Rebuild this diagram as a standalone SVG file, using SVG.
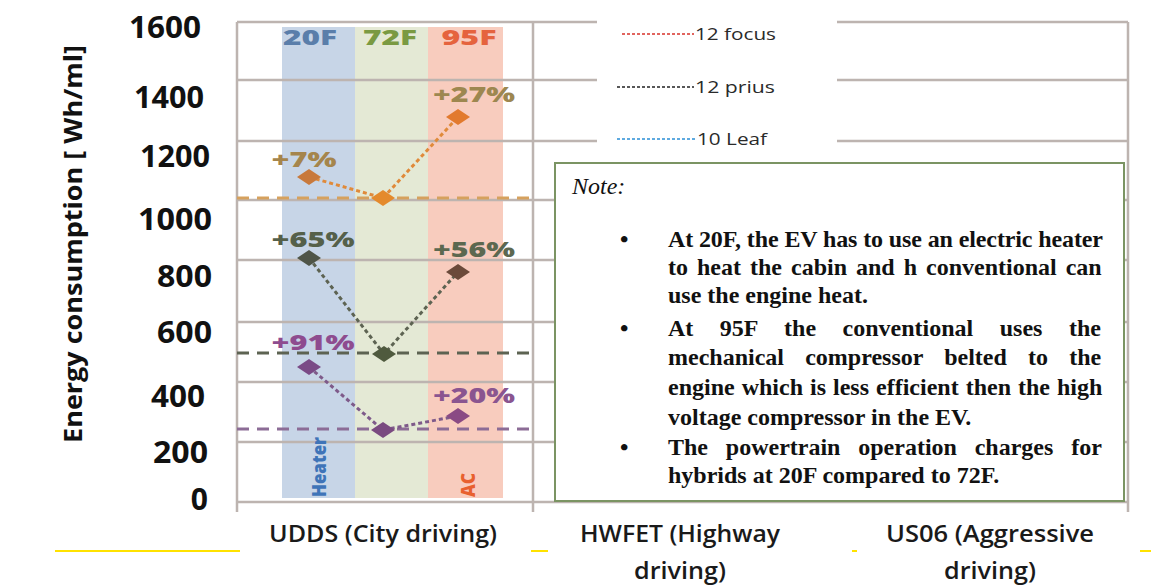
<svg xmlns="http://www.w3.org/2000/svg" width="1151" height="587" viewBox="0 0 1151 587">
<style>
.grid{stroke:#bdb4b0;stroke-width:2.5;fill:none}
.tick{font-family:"Open Sans",sans-serif;font-weight:700;font-size:30px;fill:#111;text-anchor:end}
.pct{font-family:"Open Sans",sans-serif;font-weight:800;font-size:21px;text-anchor:middle}
.ser{fill:none;stroke-width:3;stroke-dasharray:4 3}
.ref{fill:none;stroke-width:3;stroke-dasharray:12 8}
.leg{font-family:"Open Sans",sans-serif;font-size:17px;fill:#2a2a2a}
.legl{stroke-width:1.5;stroke-dasharray:3 2}
.note{font-family:"Liberation Serif","Times New Roman",serif;font-weight:700;font-size:24px;fill:#111}
.cat{font-family:"Open Sans",sans-serif;font-weight:600;font-size:24px;fill:#1a1a1a;text-anchor:middle}
</style>
<rect width="1151" height="587" fill="#ffffff"/>

<g id="bands">
  <rect x="282" y="27" width="73" height="471" fill="#c7d5e7"/>
  <rect x="355" y="27" width="73" height="471" fill="#e4e9d5"/>
  <rect x="428" y="27" width="75" height="471" fill="#f8ccbe"/>
</g>

<g id="grid">
  <line class="grid" x1="237" y1="22" x2="1128" y2="22"/>
  <line class="grid" x1="237" y1="80" x2="1128" y2="80"/>
  <line class="grid" x1="237" y1="141" x2="1128" y2="141"/>
  <line class="grid" x1="237" y1="200" x2="1128" y2="200"/>
  <line class="grid" x1="237" y1="260" x2="1128" y2="260"/>
  <line class="grid" x1="237" y1="322" x2="1128" y2="322"/>
  <line class="grid" x1="237" y1="382" x2="1128" y2="382"/>
  <line class="grid" x1="237" y1="442" x2="1128" y2="442"/>
  <line class="grid" x1="237" y1="502" x2="1128" y2="502"/>
  <line class="grid" x1="237" y1="22" x2="237" y2="512"/>
  <line class="grid" x1="533" y1="22" x2="533" y2="512"/>
  <line class="grid" x1="1128" y1="22" x2="1128" y2="512"/>
</g>

<g id="band-labels" font-family="Open Sans, sans-serif" font-weight="800" font-size="21" text-anchor="middle">
  <text x="310" y="45" fill="#5a7eaa" textLength="54" lengthAdjust="spacingAndGlyphs">20F</text>
  <text x="390" y="45" fill="#7a9a42" textLength="54" lengthAdjust="spacingAndGlyphs">72F</text>
  <text x="469" y="45" fill="#e5633e" textLength="55" lengthAdjust="spacingAndGlyphs">95F</text>
  <text transform="translate(326,497) rotate(-90)" text-anchor="start" font-size="20" textLength="60" lengthAdjust="spacingAndGlyphs" fill="#3f74b8">Heater</text>
  <text transform="translate(475,497) rotate(-90)" text-anchor="start" font-size="20" textLength="24" lengthAdjust="spacingAndGlyphs" fill="#e8602e">AC</text>
</g>

<g id="axis-labels">
  <text class="tick" x="201" y="38" textLength="72" lengthAdjust="spacingAndGlyphs">1600</text>
  <text class="tick" x="204" y="108" textLength="70" lengthAdjust="spacingAndGlyphs">1400</text>
  <text class="tick" x="210" y="167" textLength="70" lengthAdjust="spacingAndGlyphs">1200</text>
  <text class="tick" x="212" y="230" textLength="74" lengthAdjust="spacingAndGlyphs">1000</text>
  <text class="tick" x="212" y="287" textLength="55" lengthAdjust="spacingAndGlyphs">800</text>
  <text class="tick" x="212" y="343" textLength="55" lengthAdjust="spacingAndGlyphs">600</text>
  <text class="tick" x="205" y="407" textLength="54" lengthAdjust="spacingAndGlyphs">400</text>
  <text class="tick" x="208" y="463" textLength="55" lengthAdjust="spacingAndGlyphs">200</text>
  <text class="tick" x="208" y="510">0</text>
  <text transform="translate(82,443) rotate(-90)" font-family="Open Sans, sans-serif" font-weight="700" font-size="25" fill="#111" textLength="398" lengthAdjust="spacingAndGlyphs">Energy consumption [ Wh/ml]</text>
</g>

<g id="connectors">
  <line class="ref" x1="237" y1="198" x2="532" y2="198" stroke="#d6a15e"/>
  <line class="ref" x1="237" y1="353" x2="532" y2="353" stroke="#5d6352"/>
  <line class="ref" x1="237" y1="429" x2="532" y2="429" stroke="#8c6c96"/>
  <polyline class="ser" points="309,177 383,198 458,117" stroke="#e08a3a"/>
  <polyline class="ser" points="309,258 384,354 458,272" stroke="#5d6352"/>
  <polyline class="ser" points="309,367 383,430 458,416" stroke="#7e5a8a"/>
</g>

<g id="series-focus">
  <polygon points="297,177 309,169 321,177 309,185" fill="#c8793c"/>
  <polygon points="371,198 383,190 395,198 383,206" fill="#e48a2c"/>
  <polygon points="446,117 458,109 470,117 458,125" fill="#e27a2e"/>
  <text class="pct" x="304" y="167" fill="#a5854c" textLength="65" lengthAdjust="spacingAndGlyphs">+7%</text>
  <text class="pct" x="474" y="102" fill="#9d8750" textLength="82" lengthAdjust="spacingAndGlyphs">+27%</text>
</g>
<g id="series-prius">
  <polygon points="297,258 309,250 321,258 309,266" fill="#4f5548"/>
  <polygon points="372,354 384,346 396,354 384,362" fill="#4f5a3e"/>
  <polygon points="446,272 458,264 470,272 458,280" fill="#6b4a3a"/>
  <text class="pct" x="313" y="247" fill="#55604a" textLength="83" lengthAdjust="spacingAndGlyphs">+65%</text>
  <text class="pct" x="474" y="257" fill="#5c6850" textLength="82" lengthAdjust="spacingAndGlyphs">+56%</text>
</g>
<g id="series-leaf">
  <polygon points="297,367 309,359 321,367 309,375" fill="#7a4a86"/>
  <polygon points="371,430 383,422 395,430 383,438" fill="#7a4a80"/>
  <polygon points="446,416 458,408 470,416 458,424" fill="#8a4a84"/>
  <text class="pct" x="313" y="350" fill="#8e4c8f" textLength="83" lengthAdjust="spacingAndGlyphs">+91%</text>
  <text class="pct" x="474" y="403" fill="#8a5590" textLength="82" lengthAdjust="spacingAndGlyphs">+20%</text>
</g>

<g id="legend">
  <rect x="597" y="0" width="240" height="160" fill="#ffffff"/>
  <line class="legl" x1="622" y1="34" x2="694" y2="34" stroke="#d8322a"/>
  <text class="leg" x="695" y="40" textLength="81" lengthAdjust="spacingAndGlyphs">12 focus</text>
  <line class="legl" x1="617" y1="87" x2="694" y2="87" stroke="#222"/>
  <text class="leg" x="695" y="93" textLength="80" lengthAdjust="spacingAndGlyphs">12 prius</text>
  <line class="legl" x1="617" y1="139" x2="696" y2="139" stroke="#2a8fd6"/>
  <text class="leg" x="697" y="145" textLength="70" lengthAdjust="spacingAndGlyphs">10 Leaf</text>
</g>

<g id="note">
  <rect x="555" y="163" width="569" height="338" fill="#ffffff" stroke="#7b9463" stroke-width="2"/>
  <text x="572" y="194" font-family="Liberation Serif, serif" font-style="italic" font-size="24" fill="#111">Note:</text>
  <text class="note" x="620" y="247">•</text>
  <text class="note" x="620" y="336">•</text>
  <text class="note" x="620" y="455">•</text>
  <text class="note" x="668" y="247" textLength="435" lengthAdjust="spacing">At 20F, the EV has to use an electric heater</text>
  <text class="note" x="668" y="275" word-spacing="3">to heat the cabin and h conventional can</text>
  <text class="note" x="668" y="303">use the engine heat.</text>
  <text class="note" x="668" y="336" word-spacing="20.5">At 95F the conventional uses the</text>
  <text class="note" x="668" y="365" word-spacing="15.2">mechanical compressor belted to the</text>
  <text class="note" x="668" y="395" word-spacing="1">engine which is less efficient then the high</text>
  <text class="note" x="668" y="425">voltage compressor in the EV.</text>
  <text class="note" x="668" y="455" word-spacing="11.8">The powertrain operation charges for</text>
  <text class="note" x="668" y="483">hybrids at 20F compared to 72F.</text>
</g>

<g id="categories">
  <text class="cat" x="383" y="542" textLength="228" lengthAdjust="spacingAndGlyphs">UDDS (City driving)</text>
  <text class="cat" x="680" y="542" textLength="200" lengthAdjust="spacingAndGlyphs">HWFET (Highway</text>
  <text class="cat" x="680" y="579" textLength="92" lengthAdjust="spacingAndGlyphs">driving)</text>
  <text class="cat" x="990" y="542" textLength="208" lengthAdjust="spacingAndGlyphs">US06 (Aggressive</text>
  <text class="cat" x="990" y="579" textLength="92" lengthAdjust="spacingAndGlyphs">driving)</text>
</g>

<g id="yellow-rules" stroke="#ffe200" stroke-width="2">
  <line x1="55" y1="551" x2="240" y2="551"/>
  <line x1="531" y1="551" x2="548" y2="551"/>
  <line x1="852" y1="551" x2="857" y2="551"/>
  <line x1="1140" y1="551" x2="1151" y2="551"/>
</g>
</svg>
